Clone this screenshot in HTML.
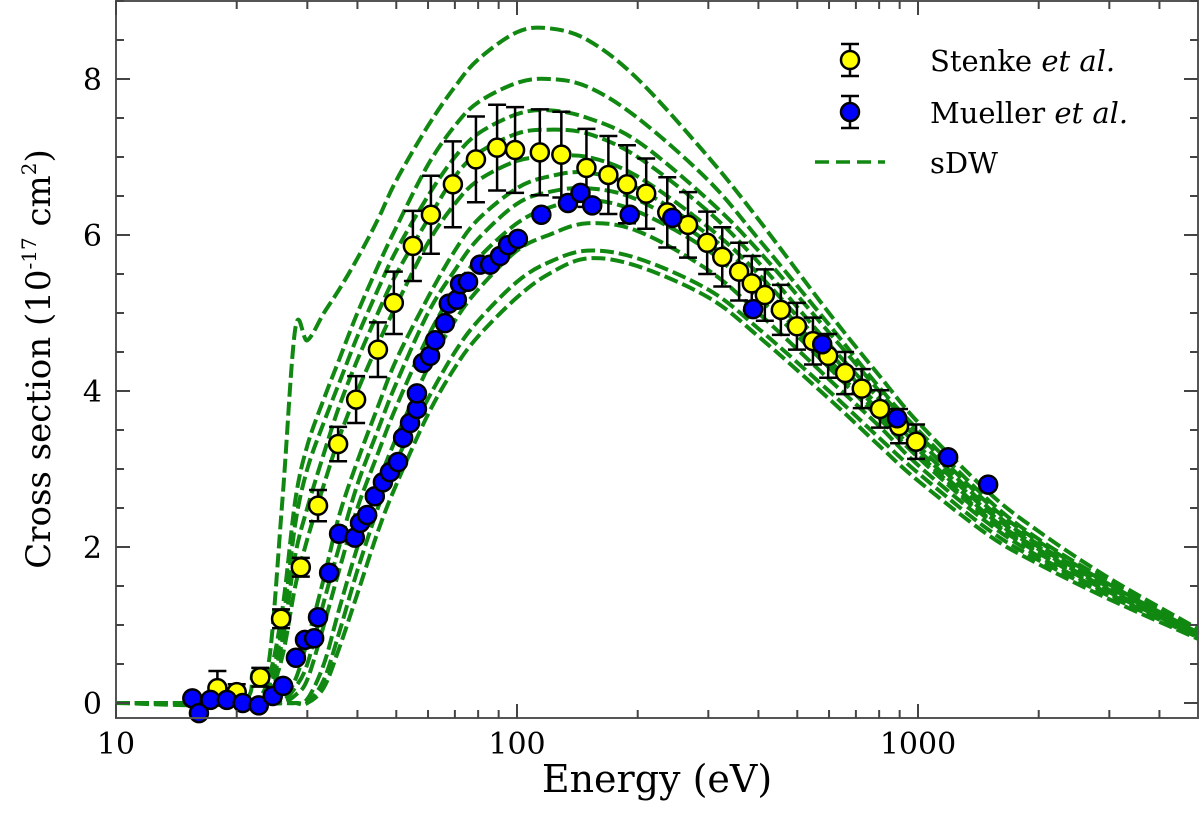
<!DOCTYPE html>
<html><head><meta charset="utf-8"><style>
html,body{margin:0;padding:0;background:#fff;}
svg{display:block;font-family:"DejaVu Serif","Liberation Serif",serif;}
</style></head><body>
<svg id="chart" width="1200" height="834" viewBox="0 0 1200 834" xmlns="http://www.w3.org/2000/svg">
<g id="curves"></g>
<g id="stenke"></g>
<g id="mueller"></g>
<g id="axes"></g>
<text x="657" y="792" font-size="38" text-anchor="middle">Energy (eV)</text>
<text transform="translate(50,359) rotate(-90)" font-size="34" text-anchor="middle">Cross section (10<tspan font-size="20" dy="-14">-17</tspan><tspan dy="14"> cm</tspan><tspan font-size="20" dy="-14">2</tspan><tspan dy="14">)</tspan></text>
<g>
  <g>
    <line x1="850" y1="44" x2="850" y2="76" stroke="#000" stroke-width="2.5"/>
    <line x1="841" y1="44" x2="859" y2="44" stroke="#000" stroke-width="2.5"/>
    <line x1="841" y1="76" x2="859" y2="76" stroke="#000" stroke-width="2.5"/>
    <circle cx="850" cy="60" r="9" fill="#ffff00" stroke="#000" stroke-width="2.5"/>
    <text x="930" y="71" font-size="29">Stenke <tspan font-style="italic">et al.</tspan></text>
  </g>
  <g>
    <line x1="850" y1="96" x2="850" y2="128" stroke="#000" stroke-width="2.5"/>
    <line x1="841" y1="96" x2="859" y2="96" stroke="#000" stroke-width="2.5"/>
    <line x1="841" y1="128" x2="859" y2="128" stroke="#000" stroke-width="2.5"/>
    <circle cx="850" cy="112" r="9" fill="#0000ff" stroke="#000" stroke-width="2.5"/>
    <text x="930" y="123" font-size="29">Mueller <tspan font-style="italic">et al.</tspan></text>
  </g>
  <g>
    <line x1="815" y1="162" x2="885" y2="162" stroke="#118811" stroke-width="3.5" stroke-dasharray="14,7"/>
    <text x="930" y="173" font-size="29">sDW</text>
  </g>
</g>
</svg>
<script>
const curveEnergies=[10,20,22,24,26,28,30,33,36,40,45,50,60,70,80,100,120,150,200,300,400,600,800,1000,1500,2000,3000,5000];
const curveA=[0,0,0.4,0.5,2.6,4.8,4.65,5.0,5.3,5.7,6.2,6.7,7.4,7.9,8.25,8.6,8.65,8.5,8.0,7.0,6.2,5.0,4.2,3.6,2.7,2.2,1.6,0.95];
const curveB=[0,0,0,0.3,1.2,2.6,3.3,3.9,4.4,5.0,5.6,6.1,6.9,7.4,7.7,7.95,8.0,7.9,7.5,6.7,5.95,4.85,4.05,3.5,2.6,2.1,1.55,0.92];
const curveC=[0,0,0,0.2,1.0,2.3,3.0,3.6,4.1,4.7,5.3,5.8,6.5,7.0,7.3,7.55,7.6,7.5,7.2,6.45,5.8,4.75,4.0,3.45,2.55,2.07,1.52,0.9];
const curveD2=[0,0,0,0.15,0.8,1.9,2.5,3.2,3.8,4.4,5.0,5.5,6.2,6.75,7.05,7.3,7.35,7.3,7.0,6.3,5.65,4.6,3.9,3.38,2.5,2.03,1.5,0.89];
const curveD=[0,0,0,0.1,0.6,1.5,2.1,2.8,3.4,4.0,4.6,5.1,5.9,6.4,6.7,6.95,7.0,7.0,6.75,6.1,5.5,4.5,3.8,3.3,2.45,2.0,1.48,0.88];
const curveE=[0,0,0,0,0.05,0.3,0.8,1.6,2.4,3.1,3.8,4.4,5.2,5.8,6.2,6.6,6.75,6.8,6.6,6.0,5.4,4.4,3.75,3.25,2.4,1.97,1.45,0.87];
const curveE2=[0,0,0,0,0.02,0.2,0.5,1.3,2.0,2.8,3.5,4.1,5.0,5.55,5.95,6.4,6.55,6.6,6.45,5.9,5.3,4.35,3.7,3.2,2.37,1.95,1.43,0.86];
const curveF=[0,0,0,0,0,0.1,0.3,1.0,1.7,2.5,3.2,3.8,4.7,5.3,5.7,6.15,6.35,6.45,6.3,5.8,5.2,4.3,3.65,3.15,2.35,1.92,1.42,0.86];
const curveG=[0,0,0,0,0,0,0.05,0.5,1.2,2.0,2.8,3.4,4.3,4.9,5.3,5.8,6.0,6.15,6.05,5.55,5.0,4.15,3.55,3.05,2.3,1.88,1.4,0.85];
const curveH=[0,0,0,0,0,0,0,0.3,0.9,1.7,2.5,3.1,3.9,4.5,4.9,5.4,5.65,5.8,5.7,5.3,4.8,4.0,3.4,2.95,2.22,1.83,1.37,0.84];
const curveI=[0,0,0,0,0,0,0,0.2,0.7,1.4,2.2,2.8,3.7,4.3,4.7,5.2,5.5,5.7,5.6,5.2,4.7,3.9,3.3,2.85,2.15,1.78,1.33,0.82];

const stenkeE=[17.9,20.0,22.9,25.8,28.9,31.9,35.8,39.7,45.0,49.3,55.0,61.0,69.2,79.0,89.2,98.9,114,129,149,169,188,210,237,267,298,325,358,385,415,455,499,547,597,658,724,804,897,989];
const stenkeV=[0.19,0.14,0.33,1.08,1.74,2.53,3.32,3.89,4.53,5.13,5.86,6.26,6.65,6.97,7.12,7.09,7.06,7.03,6.86,6.77,6.65,6.53,6.29,6.13,5.9,5.72,5.53,5.38,5.23,5.04,4.83,4.64,4.45,4.23,4.03,3.77,3.55,3.35];
const stenkeErr=[0.22,0.1,0.12,0.12,0.12,0.2,0.22,0.3,0.35,0.4,0.45,0.5,0.55,0.55,0.55,0.55,0.55,0.55,0.5,0.5,0.5,0.45,0.45,0.42,0.4,0.38,0.37,0.35,0.33,0.32,0.3,0.3,0.28,0.27,0.25,0.24,0.22,0.22];

const muellerE=[15.5,16.1,17.2,18.9,20.7,22.7,24.6,26.1,28.1,29.6,31.2,31.9,34.0,36.0,39.4,40.6,42.3,44.2,46.3,48.2,50.5,52.0,54.1,56.3,56.3,58.3,60.7,62.5,66.1,67.6,70.8,72.1,75.5,80.9,85.7,90.7,95.0,100.5,115,134,144,154,191,244,388,577,887,1189,1496];
const muellerV=[0.06,-0.13,0.04,0.04,0.0,-0.03,0.09,0.22,0.58,0.81,0.83,1.1,1.67,2.17,2.12,2.31,2.41,2.65,2.83,2.96,3.09,3.4,3.59,3.77,3.97,4.36,4.45,4.65,4.87,5.12,5.17,5.37,5.4,5.62,5.62,5.73,5.87,5.95,6.26,6.41,6.54,6.38,6.26,6.22,5.05,4.6,3.65,3.15,2.8];

const yTicks=[0,2,4,6,8];
const xTicks=[10,100,1000];

const NS="http://www.w3.org/2000/svg";
const L=116,R=1198,T=1,B=718;
function xs(e){return L+(Math.log10(e)-1)*401;}
function ys(v){return 703-v*78;}
function mk(tag,attrs,parent){const el=document.createElementNS(NS,tag);for(const k in attrs)el.setAttribute(k,attrs[k]);parent.appendChild(el);return el;}

const curvesG=document.getElementById('curves');
const allCurves=[curveA,curveB,curveC,curveD2,curveD,curveE,curveE2,curveF,curveG,curveH,curveI];
allCurves.forEach((c,ci)=>{
  const pts=curveEnergies.map((e,i)=>[xs(e),ys(c[i])]);
  let d='M'+pts[0][0]+','+pts[0][1];
  for(let i=0;i<pts.length-1;i++){
    const p0=pts[Math.max(0,i-1)],p1=pts[i],p2=pts[i+1],p3=pts[Math.min(pts.length-1,i+2)];
    const c1x=p1[0]+(p2[0]-p0[0])/6,c1y=p1[1]+(p2[1]-p0[1])/6;
    const c2x=p2[0]-(p3[0]-p1[0])/6,c2y=p2[1]-(p3[1]-p1[1])/6;
    d+=' C'+c1x.toFixed(1)+','+c1y.toFixed(1)+' '+c2x.toFixed(1)+','+c2y.toFixed(1)+' '+p2[0].toFixed(1)+','+p2[1].toFixed(1);
  }
  const p=mk('path',{d:d,fill:'none',stroke:'#118811','stroke-width':4,'stroke-dasharray':'14,5'},curvesG);
  
  
});

const sg=document.getElementById('stenke');
stenkeE.forEach((e,i)=>{
  const x=xs(e),y=ys(stenkeV[i]),y1=ys(stenkeV[i]+stenkeErr[i]),y2=ys(stenkeV[i]-stenkeErr[i]);
  const g=mk('g',{},sg);
  
  
  mk('line',{x1:x,y1:y1,x2:x,y2:y2,stroke:'#000','stroke-width':2.5},g);
  mk('line',{x1:x-9,y1:y1,x2:x+9,y2:y1,stroke:'#000','stroke-width':2.5},g);
  mk('line',{x1:x-9,y1:y2,x2:x+9,y2:y2,stroke:'#000','stroke-width':2.5},g);
  mk('circle',{cx:x,cy:y,r:9,fill:'#ffff00',stroke:'#000','stroke-width':2.5},g);
});
const mg=document.getElementById('mueller');
muellerE.forEach((e,i)=>{
  const c=mk('circle',{cx:xs(e),cy:ys(muellerV[i]),r:9,fill:'#0000ff',stroke:'#000','stroke-width':2.5},mg);
  
  
});

const ag=document.getElementById('axes');
const frame=mk('rect',{x:L,y:T,width:R-L,height:B-T,fill:'none',stroke:'#555','stroke-width':2},ag);


for(let v=0;v<=9;v+=0.5){
  const y=ys(v);if(y<T)break;
  const major=(v%2===0),len=major?14:8;
  mk('line',{x1:L,y1:y,x2:L+len,y2:y,stroke:'#444','stroke-width':2},ag);
  mk('line',{x1:R,y1:y,x2:R-len,y2:y,stroke:'#444','stroke-width':2},ag);
}
yTicks.forEach(v=>{
  const t=mk('text',{x:L-14,y:ys(v)+11,'font-size':30,'text-anchor':'end'},ag);
  t.textContent=v;
  
  
});
for(let dec=10;dec<=1000;dec*=10){
  for(let m=1;m<10;m++){
    const x=xs(dec*m);if(x>R)break;
    const len=m===1?14:8;
    mk('line',{x1:x,y1:B,x2:x,y2:B-len,stroke:'#444','stroke-width':2},ag);
    mk('line',{x1:x,y1:T,x2:x,y2:T+len,stroke:'#444','stroke-width':2},ag);
  }
}
xTicks.forEach(v=>{
  const t=mk('text',{x:xs(v),y:754,'font-size':30,'text-anchor':'middle'},ag);
  t.textContent=v;
  
  
});
</script>
</body></html>
